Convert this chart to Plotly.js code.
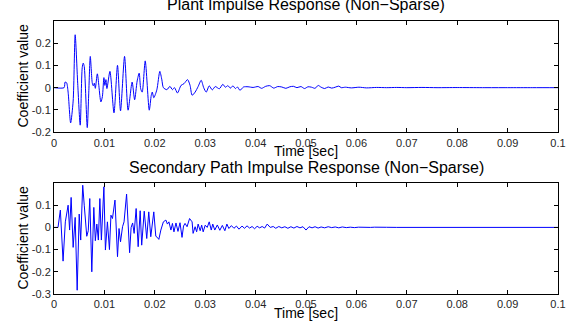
<!DOCTYPE html>
<html>
<head>
<meta charset="utf-8">
<script src="https://cdn.plot.ly/plotly-3.0.1.min.js"></script>
<style>html,body{margin:0;padding:0;background:#fff;}#chart{width:575px;height:327px;}</style>
</head>
<body>
<div id="chart"></div>
<script>
// Plant impulse response (time in s, coefficient)
const plantTime = [0, 0.0020, 0.0022, 0.0025, 0.0028, 0.0033, 0.0038, 0.0042, 0.0047, 0.0052, 0.0056, 0.0058, 0.0060, 0.0066, 0.0069, 0.0072, 0.0076, 0.0078, 0.0080, 0.0082, 0.0086, 0.0093, 0.0096, 0.0099, 0.0101, 0.0103, 0.0105, 0.0111, 0.0119, 0.0126, 0.0132, 0.0140, 0.0147, 0.0155, 0.0160, 0.0165, 0.0169, 0.0172, 0.0175, 0.0181, 0.0189, 0.0193, 0.0195, 0.0198, 0.0204, 0.0210, 0.0214, 0.0217, 0.0224, 0.0230, 0.0235, 0.0239, 0.0245, 0.0252, 0.0258, 0.0265, 0.0270, 0.0274, 0.0280, 0.0286, 0.0292, 0.0297, 0.0302, 0.0308, 0.0314, 0.0320, 0.0328, 0.0335, 0.0340, 0.0345, 0.0350, 0.0355, 0.0360, 0.0364, 0.0369, 0.0376, 0.0385, 0.0395, 0.0405, 0.0412, 0.0420, 0.0428, 0.0436, 0.0444, 0.0452, 0.0460, 0.0468, 0.0475, 0.0482, 0.0490, 0.0497, 0.0504, 0.0511, 0.0518, 0.0524, 0.0530, 0.0537, 0.0544, 0.0551, 0.0558, 0.0565, 0.0570, 0.0578, 0.0590, 0.0605, 0.0620, 0.0640, 0.0660, 0.0680, 0.0700, 0.0730, 0.0760, 0.0800, 0.0850, 0.0900, 0.0950, 0.1000];
const plantValue = [0, 0, 0.025, 0.022, -0.02, -0.158, -0.06, 0.237, 0.02, -0.168, 0.09, 0.11, 0.095, -0.179, -0.02, 0.14, 0.02, 0.008, 0.02, -0.003, 0.062, -0.064, -0.04, 0.045, 0.01, 0.036, -0.004, 0.073, -0.113, 0.10, -0.104, 0.14, -0.101, 0.025, -0.054, 0.03, 0.065, -0.005, -0.02, 0.12, -0.101, -0.034, -0.02, -0.045, -0.01, 0.073, 0.035, 0, -0.009, 0.006, -0.009, 0, -0.024, 0.01, 0.018, 0.036, 0.01, -0.034, -0.02, 0.005, 0.033, 0.0, -0.02, 0.008, -0.01, 0.005, -0.005, 0.015, 0.002, 0.009, -0.002, 0.008, -0.004, 0.003, -0.012, 0.003, 0.004, 0.001, 0.005, -0.003, 0.006, 0.009, -0.002, 0.005, 0.003, -0.003, 0.004, 0.006, 0.0, 0.005, -0.004, 0.004, 0.002, -0.003, 0.01, 0.002, -0.004, 0.003, -0.002, 0.002, 0.007, 0.0, 0.002, -0.001, 0.002, -0.001, 0.001, 0.0, 0.001, 0.0, 0.001, 0.0, 0.0005, 0.0, 0.0, 0.0, 0.0];

// Secondary path impulse response
const secTime = [0, 0.0008, 0.00126, 0.0018, 0.00225, 0.0028, 0.0031, 0.0034, 0.0038, 0.0042, 0.0046, 0.0050, 0.0053, 0.0057, 0.0060, 0.0065, 0.0068, 0.0071, 0.0075, 0.0079, 0.0082, 0.0085, 0.0088, 0.0091, 0.0094, 0.0096, 0.0099, 0.0102, 0.0106, 0.0110, 0.0113, 0.0116, 0.0121, 0.0126, 0.0129, 0.0132, 0.0136, 0.0139, 0.0144, 0.0150, 0.0153, 0.0156, 0.0159, 0.0163, 0.0167, 0.0171, 0.0174, 0.0179, 0.0184, 0.0188, 0.0192, 0.0198, 0.0202, 0.0205, 0.0208, 0.0212, 0.0217, 0.0222, 0.0225, 0.0228, 0.0232, 0.0235, 0.0238, 0.0242, 0.0246, 0.0250, 0.0254, 0.0257, 0.0260, 0.0264, 0.0269, 0.0274, 0.0276, 0.0280, 0.0283, 0.0286, 0.0290, 0.0293, 0.0296, 0.0300, 0.0304, 0.0308, 0.0312, 0.0315, 0.0319, 0.0324, 0.0329, 0.0334, 0.0339, 0.0343, 0.0347, 0.0352, 0.0357, 0.0362, 0.0367, 0.0373, 0.0378, 0.0383, 0.0388, 0.0393, 0.0398, 0.0403, 0.0408, 0.0413, 0.0418, 0.0423, 0.0429, 0.0435, 0.0440, 0.0446, 0.0452, 0.0458, 0.0464, 0.0470, 0.0476, 0.0482, 0.0488, 0.0494, 0.0500, 0.0506, 0.0512, 0.0518, 0.0524, 0.0530, 0.0537, 0.0544, 0.0551, 0.0558, 0.0565, 0.0572, 0.0580, 0.0588, 0.0596, 0.0604, 0.0612, 0.0620, 0.0628, 0.0636, 0.0645, 0.0660, 0.0680, 0.0700, 0.0730, 0.0760, 0.0800, 0.0850, 0.0900, 0.0950, 0.1000];
const secValue = [0, 0, 0.078, -0.152, 0.025, 0.10, -0.012, 0.135, -0.09, 0.045, -0.283, 0.06, -0.057, 0.19, 0.10, -0.04, -0.015, 0.13, -0.2, 0.09, -0.06, 0.015, -0.057, 0.13, -0.057, 0.063, 0.183, -0.102, 0.025, -0.10, 0.055, 0.04, 0.123, -0.132, -0.005, -0.065, 0.003, 0.025, 0.15, -0.114, 0.0, 0.02, -0.027, 0.085, -0.087, 0.075, -0.08, 0.073, -0.05, 0.07, -0.042, 0.07, -0.04, -0.045, -0.054, -0.012, 0.025, 0.033, 0.015, 0.025, -0.012, 0.018, -0.02, 0.02, -0.018, 0.021, -0.045, 0.006, 0.018, 0.003, 0.04, 0.025, -0.027, 0.003, -0.02, 0.015, -0.015, 0.01, -0.02, 0.01, 0.0, 0.025, -0.012, 0.015, -0.012, 0.011, -0.013, 0.009, -0.015, 0.015, -0.005, 0.008, -0.004, 0.006, -0.008, 0.006, -0.004, 0.007, -0.003, 0.004, -0.006, 0.005, -0.002, 0.004, -0.003, 0.015, 0.0, 0.004, -0.004, 0.004, -0.002, 0.003, -0.004, 0.003, -0.003, 0.004, -0.002, 0.003, -0.012, 0.003, -0.002, 0.003, -0.003, 0.002, -0.002, 0.003, -0.001, 0.002, -0.002, 0.002, -0.001, 0.001, -0.001, 0.001, 0.0, 0.001, 0.0, 0.001, 0.0, 0.0005, 0.0, 0.0, 0.0, 0.0, 0.0, 0.0, 0.0, 0.0, 0.0];

const xTicks = [0, 0.01, 0.02, 0.03, 0.04, 0.05, 0.06, 0.07, 0.08, 0.09, 0.1];
const xTickText = ['0', '0.01', '0.02', '0.03', '0.04', '0.05', '0.06', '0.07', '0.08', '0.09', '0.1'];
const topYTicks = [-0.2, -0.1, 0, 0.1, 0.2];
const botYTicks = [-0.3, -0.2, -0.1, 0, 0.1];

const FONT = 'Liberation Sans, Arial, Helvetica, sans-serif';
const tickFont = {family: FONT, size: 11, color: '#262626'};

function xAxis(anchor) {
  return {domain: [54/575, 558/575], range: [0, 0.1], anchor: anchor,
    tickvals: xTicks, ticktext: xTickText, ticks: 'inside', ticklen: 4, tickcolor: '#000',
    showline: true, linecolor: '#000', linewidth: 1, mirror: 'ticks',
    showgrid: false, zeroline: false, tickfont: tickFont, fixedrange: true};
}
function yAxis(anchor, dom, rng, ticks) {
  return {domain: dom, range: rng, anchor: anchor,
    tickvals: ticks, ticktext: ticks.map(v => v === 0 ? '0' : String(v)),
    ticks: 'inside', ticklen: 4, tickcolor: '#000',
    showline: true, linecolor: '#000', linewidth: 1, mirror: 'ticks',
    showgrid: false, zeroline: false, tickfont: tickFont, fixedrange: true};
}

const data = [
  {x: plantTime, y: plantValue, xaxis: 'x', yaxis: 'y', type: 'scatter', mode: 'lines',
   line: {color: '#0000ff', width: 1, shape: 'spline', smoothing: 0.7}, hoverinfo: 'skip'},
  {x: secTime, y: secValue, xaxis: 'x2', yaxis: 'y2', type: 'scatter', mode: 'lines',
   line: {color: '#0000ff', width: 1}, hoverinfo: 'skip'}
];

const py = p => 1 - p/327;
const layout = {
  width: 575, height: 327, margin: {l: 0, r: 0, t: 0, b: 0},
  paper_bgcolor: '#fff', plot_bgcolor: '#fff', showlegend: false,
  xaxis: xAxis('y'), yaxis: yAxis('x', [py(132.3), py(20.7)], [-0.2, 0.3], topYTicks),
  xaxis2: xAxis('y2'), yaxis2: yAxis('x2', [py(294), py(183)], [-0.3, 0.2], botYTicks),
  annotations: [
    {text: 'Plant Impulse Response (Non\u2212Sparse)', x: 306/575, y: py(5), xref: 'paper', yref: 'paper', xanchor: 'center', yanchor: 'middle', showarrow: false, font: {family: FONT, size: 16, color: '#000'}},
    {text: 'Secondary Path Impulse Response (Non\u2212Sparse)', x: 306/575, y: py(167), xref: 'paper', yref: 'paper', xanchor: 'center', yanchor: 'middle', showarrow: false, font: {family: FONT, size: 16, color: '#000'}},
    {text: 'Time [sec]', x: 306/575, y: py(151), xref: 'paper', yref: 'paper', xanchor: 'center', yanchor: 'middle', showarrow: false, font: {family: FONT, size: 14, color: '#000'}},
    {text: 'Time [sec]', x: 306/575, y: py(313), xref: 'paper', yref: 'paper', xanchor: 'center', yanchor: 'middle', showarrow: false, font: {family: FONT, size: 14, color: '#000'}},
    {text: 'Coefficient value', x: 22/575, y: py(76.5), xref: 'paper', yref: 'paper', xanchor: 'center', yanchor: 'middle', textangle: -90, showarrow: false, font: {family: FONT, size: 14, color: '#000'}},
    {text: 'Coefficient value', x: 22/575, y: py(238.5), xref: 'paper', yref: 'paper', xanchor: 'center', yanchor: 'middle', textangle: -90, showarrow: false, font: {family: FONT, size: 14, color: '#000'}}
  ]
};

Plotly.newPlot('chart', data, layout, {staticPlot: true, displayModeBar: false});
</script>
</body>
</html>
